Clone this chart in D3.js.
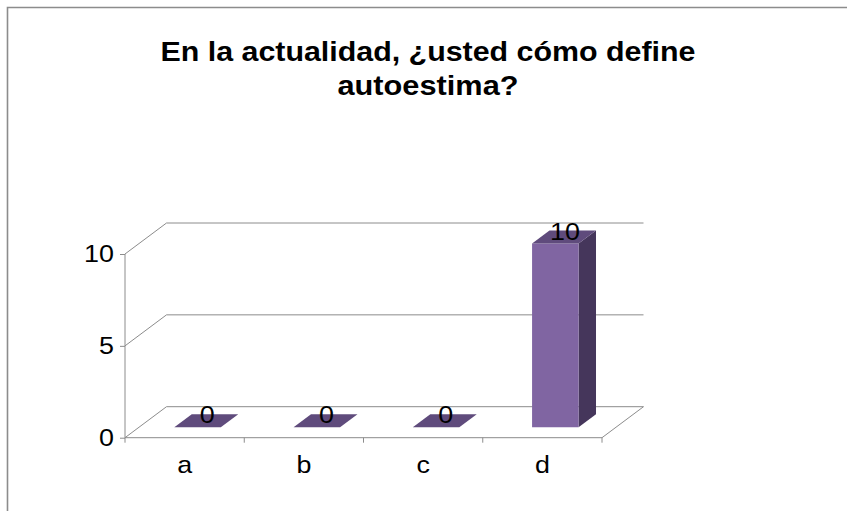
<!DOCTYPE html>
<html>
<head>
<meta charset="utf-8">
<script src="https://cdn.jsdelivr.net/npm/d3@7"></script>
<style>
  html, body { margin: 0; padding: 0; background: #fff; }
  svg { display: block; }
  text { font-family: "Liberation Sans", Arial, sans-serif; fill: #000; }
</style>
</head>
<body>
<script>
// Survey answers and counts
const categories = ["a", "b", "c", "d"];
const values = [0, 0, 0, 10];
const yTicks = [0, 5, 10];
const titleLines = ["En la actualidad, ¿usted cómo define", "autoestima?"];

const W = 847, H = 511;
const FS = 24;          // label font size
const SX = 1.12;        // horizontal text stretch
const svg = d3.select("body").append("svg").attr("width", W).attr("height", H);

// Outer frame (continues past the right and bottom edges)
svg.append("path")
  .attr("d", `M7.5,${H + 5} L7.5,7.5 L${W + 5},7.5`)
  .attr("fill", "none").attr("stroke", "#8c8c8c").attr("stroke-width", 1.6);

// Title
const titleW = [535, 181];
const title = svg.append("g").attr("class", "title");
titleLines.forEach((t, i) => {
  title.append("text")
    .attr("x", 428).attr("y", 61 + i * 34)
    .attr("text-anchor", "middle")
    .attr("font-size", 27).attr("font-weight", "bold")
    .attr("textLength", titleW[i]).attr("lengthAdjust", "spacingAndGlyphs")
    .text(t);
});

// Scales for the front plane of the 3D plot
const x = d3.scaleBand().domain(categories).range([125, 602]);
const y = d3.scaleLinear().domain([0, 10]).range([437.7, 254]);

// Depth offset of the back wall
const DX = 41.5, DY = 31;
const P = (px, v, d) => [px + d * DX, y(v) - d * DY];
const pt = p => p[0] + "," + p[1];

const gridColor = "#8c8c8c";
const grid = svg.append("g").attr("fill", "none").attr("stroke", gridColor).attr("stroke-width", 1);

// Back-wall gridlines and their diagonals to the value axis
yTicks.forEach(v => {
  const a = P(x.range()[0], v, 0), b = P(x.range()[0], v, 1), c = P(x.range()[1], v, 1);
  grid.append("polyline").attr("points", [a, b, c].map(pt).join(" "));
});
// Right edge of the floor
grid.append("polyline").attr("points", [P(x.range()[1], 0, 1), P(x.range()[1], 0, 0)].map(pt).join(" "));

// Value axis
const yAxis = svg.append("g")
  .attr("transform", "translate(125,0)")
  .call(d3.axisLeft(y).tickValues(yTicks).tickSize(5).tickPadding(6).tickFormat(d3.format("d")));
yAxis.select(".domain").attr("stroke", gridColor).attr("d", `M0,${y(10)}V${y(0) + 5}`);
yAxis.selectAll(".tick line").attr("stroke", gridColor);
yAxis.selectAll(".tick text")
  .attr("x", 0).attr("transform", `translate(-11,0) scale(${SX},1)`)
  .attr("font-size", FS).attr("font-family", "Liberation Sans, Arial, sans-serif").attr("fill", "#000");

// Category axis
const xAxis = svg.append("g")
  .attr("transform", `translate(0,${y(0)})`)
  .call(d3.axisBottom(x).tickSize(0).tickPadding(18));
xAxis.select(".domain").attr("stroke", gridColor).attr("d", `M${x.range()[0]},0H${x.range()[1]}`);
xAxis.selectAll(".tick text")
  .attr("transform", `scale(${SX},1)`)
  .attr("font-size", FS).attr("font-family", "Liberation Sans, Arial, sans-serif").attr("fill", "#000");
xAxis.selectAll(".bound").data(categories).join("line")
  .attr("class", "bound")
  .attr("x1", d => x(d) + x.bandwidth()).attr("x2", d => x(d) + x.bandwidth())
  .attr("y1", 0).attr("y2", 5).attr("stroke", gridColor);

// 3D columns
const d0 = 0.335, d1 = 0.755;
const bars = svg.append("g");
categories.forEach((c, i) => {
  const v = values[i];
  const x0 = x(c) + x.bandwidth() * 0.297, x1 = x0 + x.bandwidth() * 0.39;
  const g = bars.append("g");
  if (v > 0) {
    g.append("polygon").attr("fill", "#45365b")
      .attr("points", [P(x1, v, d0), P(x1, v, d1), P(x1, 0, d1), P(x1, 0, d0)].map(pt).join(" "));
    g.append("polygon").attr("fill", "#8065a2")
      .attr("points", [P(x0, v, d0), P(x1, v, d0), P(x1, 0, d0), P(x0, 0, d0)].map(pt).join(" "));
  }
  g.append("polygon").attr("fill", "#5f4b7c")
    .attr("points", [P(x0, v, d0), P(x1, v, d0), P(x1, v, d1), P(x0, v, d1)].map(pt).join(" "));
  const lc = P((x0 + x1) / 2, v, (d0 + d1) / 2);
  g.append("text")
    .attr("transform", `translate(${lc[0] + 1},${lc[1] + 2.5}) scale(${SX},1)`)
    .attr("text-anchor", "middle").attr("font-size", FS)
    .text(v);
});
</script>
</body>
</html>
